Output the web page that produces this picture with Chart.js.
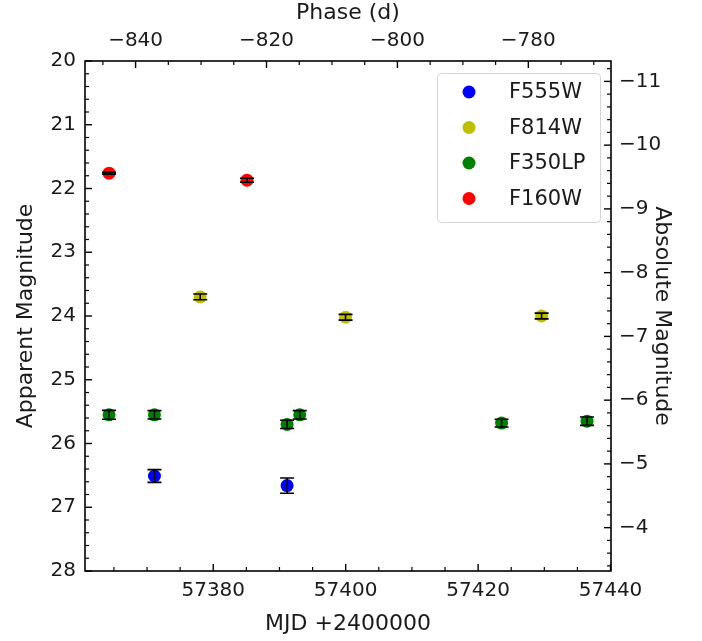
<!DOCTYPE html>
<html><head><meta charset="utf-8">
<script src="https://cdn.jsdelivr.net/npm/chart.js@4.4.1/dist/chart.umd.min.js"></script>
<style>html,body{margin:0;padding:0;background:#fff}#wrap{width:702px;height:641px}</style>
</head><body><div id="wrap"><canvas id="c" width="702" height="641"></canvas></div>
<script>
// ---- data ----
const seriesNames = ['F555W', 'F814W', 'F350LP', 'F160W'];
const seriesColors = ['#0000ff', '#bfbf00', '#008000', '#ff0000'];

const f555wMJD = [57371.12, 57391.15];
const f555wMag = [26.51, 26.66];
const f555wErr = [0.10, 0.12];

const f814wMJD = [57378.03, 57399.98, 57429.59];
const f814wMag = [23.70, 24.02, 24.00];
const f814wErr = [0.045, 0.045, 0.045];

const f350lpMJD = [57364.26, 57371.12, 57391.15, 57393.06, 57423.54, 57436.45];
const f350lpMag = [25.55, 25.55, 25.70, 25.55, 25.68, 25.65];
const f350lpErr = [0.07, 0.065, 0.065, 0.065, 0.06, 0.065];

const f160wMJD = [57364.26, 57385.10];
const f160wMag = [21.76, 21.87];
const f160wErr = [0.015, 0.03];

const mjdTicks = [57380, 57400, 57420, 57440];
const phaseTicks = [-840, -820, -800, -780];
const appMagTicks = [20, 21, 22, 23, 24, 25, 26, 27, 28];
const absMagTicks = [-11, -10, -9, -8, -7, -6, -5, -4];

const mjdRange = [57360.63, 57440.07];
const phaseRange = [-847.73, -767.37];
const appMagRange = [20, 28];
const distanceModulus = 31.32;

// ---- build ----
const seriesMJD = [f555wMJD, f814wMJD, f350lpMJD, f160wMJD];
const seriesMag = [f555wMag, f814wMag, f350lpMag, f160wMag];
const seriesErr = [f555wErr, f814wErr, f350lpErr, f160wErr];

const FONT = 'DejaVu Sans';
const TXT = '#1a1a1a';
const fmt = v => String(v).replace('-', '\u2212');

const datasets = seriesNames.map((name, i) => ({
  label: name,
  data: seriesMJD[i].map((x, j) => ({x: x, y: seriesMag[i][j], err: seriesErr[i][j]})),
  backgroundColor: seriesColors[i],
  borderColor: seriesColors[i],
  pointRadius: 6.5,
  pointBorderWidth: 0,
  showLine: false,
  xAxisID: 'x',
  yAxisID: 'y'
}));

function setTicks(arr) { return s => { s.ticks = arr.map(v => ({value: v})); }; }

function axisCommon(ticksArr, padding) {
  return {
    type: 'linear',
    afterBuildTicks: setTicks(ticksArr),
    grid: {display: false, drawTicks: false},
    border: {display: false},
    ticks: {padding: padding, color: TXT, font: {family: FONT, size: 20}, autoSkip: false, maxRotation: 0, callback: v => fmt(v)}
  };
}

const x = Object.assign(axisCommon(mjdTicks, 8), {
  position: 'bottom', min: mjdRange[0], max: mjdRange[1],
  title: {display: true, text: 'MJD +2400000', color: TXT, font: {family: FONT, size: 22}, padding: {top: 0, bottom: 4}},
  afterFit: s => { s.height = 70; }
});
const x2 = Object.assign(axisCommon(phaseTicks, 8), {
  position: 'top', min: phaseRange[0], max: phaseRange[1],
  title: {display: true, text: 'Phase (d)', color: TXT, font: {family: FONT, size: 22}, padding: {top: 0, bottom: 0}},
  afterFit: s => { s.height = 61; }
});
const y = Object.assign(axisCommon(appMagTicks, 9), {
  position: 'left', min: appMagRange[0], max: appMagRange[1], reverse: true,
  title: {display: true, text: 'Apparent Magnitude', color: TXT, font: {family: FONT, size: 22}, padding: {top: 13, bottom: 0}},
  afterFit: s => { s.width = 85; }
});
const y2 = Object.assign(axisCommon(absMagTicks, 8), {
  position: 'right', min: appMagRange[0] - distanceModulus, max: appMagRange[1] - distanceModulus, reverse: true,
  title: {display: true, text: 'Absolute Magnitude', color: TXT, font: {family: FONT, size: 22}, padding: {top: 27, bottom: 0}},
  afterFit: s => { s.width = 91; }
});

const minorSteps = {x: 5, x2: 5, y: 0.2, y2: 0.2};
const majorSteps = {x: 20, x2: 20, y: 1, y2: 1};

const decor = {
  id: 'decor',
  afterDatasetsDraw(chart) {
    const ctx = chart.ctx;
    const xs = chart.scales.x, ys = chart.scales.y;
    ctx.save();
    ctx.strokeStyle = '#000';
    ctx.lineWidth = 1.6;
    chart.data.datasets.forEach(ds => {
      ds.data.forEach(p => {
        const px = xs.getPixelForValue(p.x);
        const ya = ys.getPixelForValue(p.y - p.err), yb = ys.getPixelForValue(p.y + p.err);
        ctx.beginPath();
        ctx.moveTo(px, ya); ctx.lineTo(px, yb);
        ctx.moveTo(px - 7, ya); ctx.lineTo(px + 7, ya);
        ctx.moveTo(px - 7, yb); ctx.lineTo(px + 7, yb);
        ctx.stroke();
      });
    });
    ctx.restore();
  },
  afterDraw(chart) {
    const ctx = chart.ctx, a = chart.chartArea;
    ctx.save();
    ctx.strokeStyle = '#000';
    // ticks
    ['x', 'x2', 'y', 'y2'].forEach(id => {
      const s = chart.scales[id];
      const ms = minorSteps[id], ratio = Math.round(majorSteps[id] / ms);
      const lo = Math.min(s.min, s.max), hi = Math.max(s.min, s.max);
      const drawTick = (v, len) => {
        const p = s.getPixelForValue(v);
        ctx.beginPath();
        if (id === 'x') { ctx.moveTo(p, a.bottom); ctx.lineTo(p, a.bottom - len); }
        else if (id === 'x2') { ctx.moveTo(p, a.top); ctx.lineTo(p, a.top + len); }
        else if (id === 'y') { ctx.moveTo(a.left, p); ctx.lineTo(a.left + len, p); }
        else { ctx.moveTo(a.right, p); ctx.lineTo(a.right - len, p); }
        ctx.stroke();
      };
      ctx.lineWidth = 1.2;
      for (let k = Math.ceil(lo / ms - 1e-9); k * ms <= hi + 1e-9; k++) {
        if (Math.abs(k % ratio) === 0) continue;
        drawTick(k * ms, 4);
      }
      ctx.lineWidth = 1.4;
      s.ticks.forEach(t => drawTick(t.value, 7));
    });
    // frame
    ctx.lineWidth = 1.6;
    ctx.strokeRect(a.left, a.top, a.right - a.left, a.bottom - a.top);
    // legend
    const lw = 163, lh = 149;
    const lx = a.right - 11 - lw, ly = a.top + 12;
    ctx.beginPath();
    ctx.roundRect(lx + 0.5, ly + 0.5, lw, lh, 4);
    ctx.fillStyle = 'rgba(255,255,255,0.8)';
    ctx.fill();
    ctx.strokeStyle = '#d5d5d5';
    ctx.lineWidth = 1;
    ctx.stroke();
    ctx.font = '21px "' + FONT + '"';
    ctx.textBaseline = 'middle';
    ctx.textAlign = 'left';
    chart.data.datasets.forEach((ds, i) => {
      const cy = ly + 19 + i * 35.5;
      ctx.beginPath();
      ctx.arc(lx + 32, cy, 6.5, 0, Math.PI * 2);
      ctx.fillStyle = ds.backgroundColor;
      ctx.fill();
      ctx.fillStyle = TXT;
      ctx.fillText(ds.label, lx + 72, cy + 1);
    });
    ctx.restore();
  }
};

new Chart(document.getElementById('c'), {
  type: 'scatter',
  data: {datasets: datasets},
  options: {
    responsive: false,
    animation: false,
    layout: {padding: 0},
    plugins: {legend: {display: false}, tooltip: {enabled: false}},
    scales: {x: x, x2: x2, y: y, y2: y2}
  },
  plugins: [decor]
});
</script>
</body></html>
